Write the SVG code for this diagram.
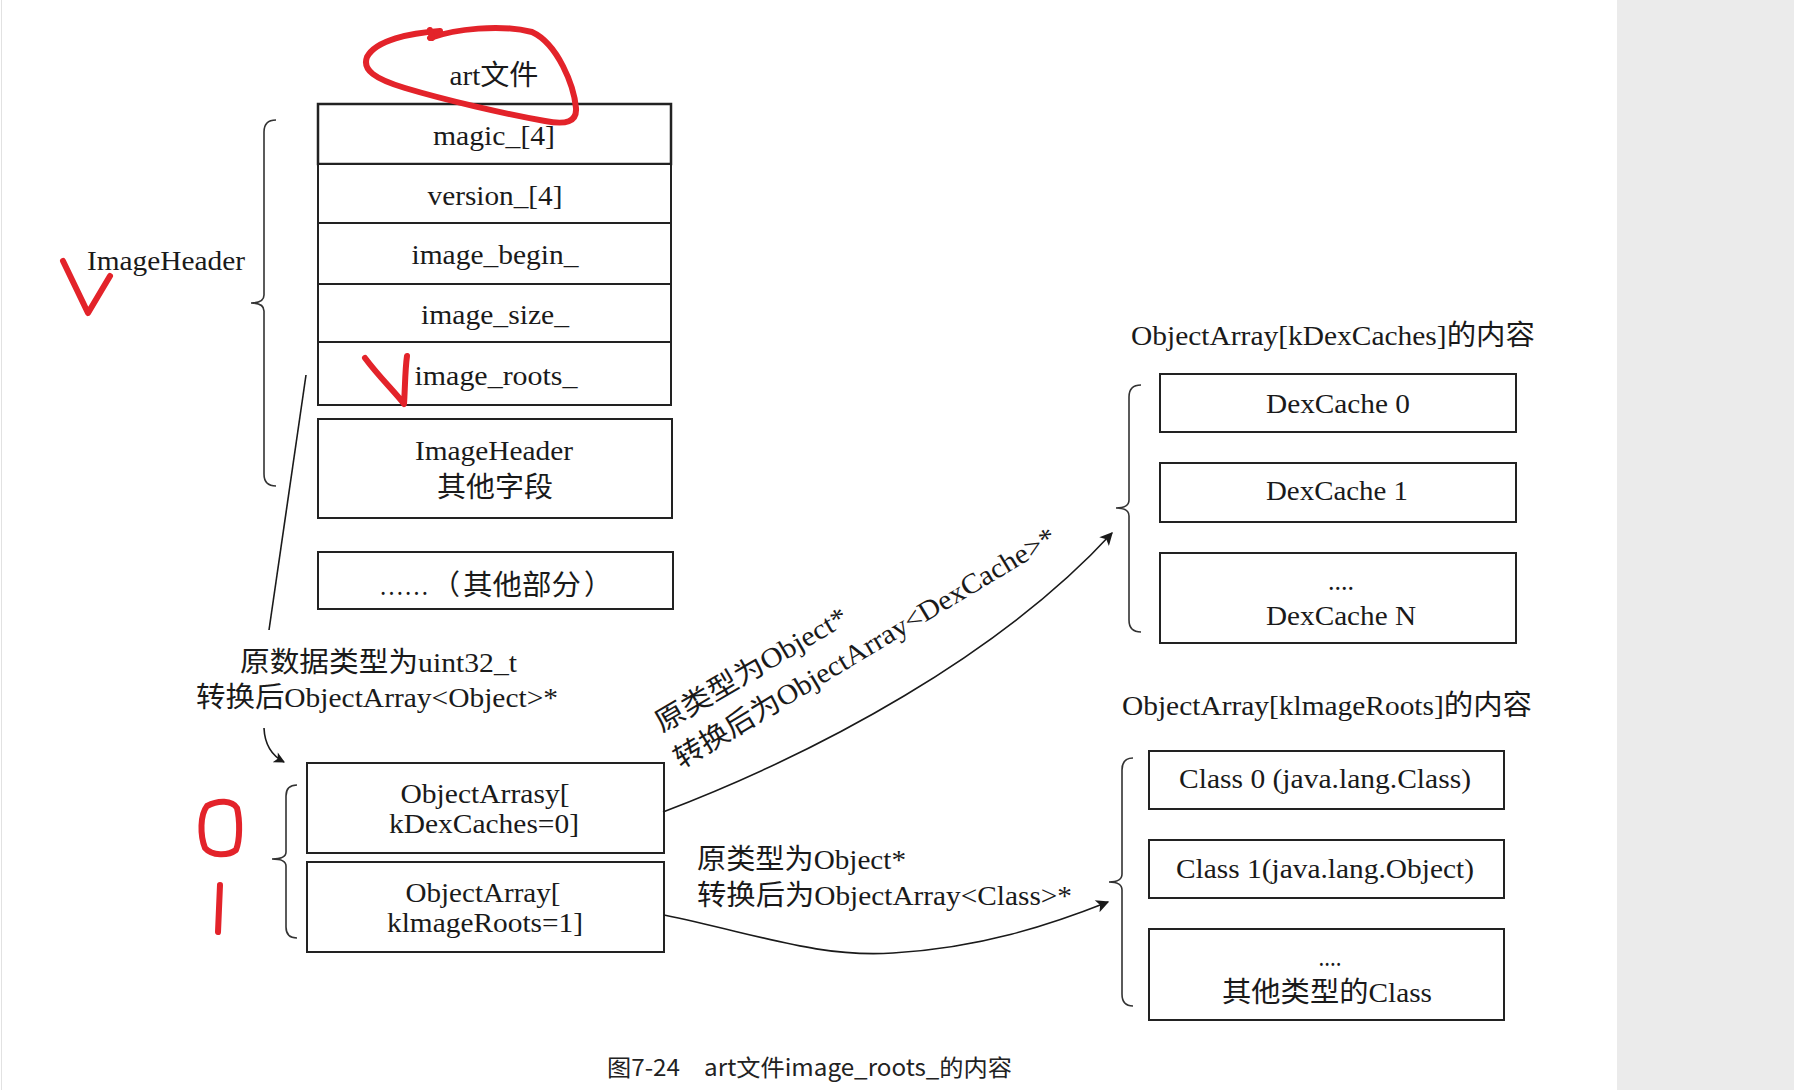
<svg xmlns="http://www.w3.org/2000/svg" width="1794" height="1090" viewBox="0 0 1794 1090">
<style>
.t{font-family:"Liberation Serif","Noto Sans CJK SC",serif;font-size:28px;fill:#1a1a1a}
.m{text-anchor:middle}
.box{fill:#fff;stroke:#222;stroke-width:2}
.br{fill:none;stroke:#333;stroke-width:1.6}
.cn{fill:none;stroke:#1a1a1a;stroke-width:1.6}
.red{fill:none;stroke:#e3232a;stroke-width:6;stroke-linecap:round;stroke-linejoin:round}
.cap{font-family:"Noto Sans CJK SC","Noto Sans",sans-serif;font-size:23px;fill:#222}
</style>
<defs>
<marker id="ah" viewBox="0 0 10 10" refX="9" refY="5" markerWidth="20" markerHeight="13" markerUnits="userSpaceOnUse" orient="auto"><path d="M0,0 L10,5 L0,10 L2.5,5 z" fill="#1a1a1a"/></marker>
<marker id="ahs" viewBox="0 0 10 10" refX="9" refY="5" markerWidth="16" markerHeight="11" markerUnits="userSpaceOnUse" orient="auto"><path d="M0,0 L10,5 L0,10 L2.5,5 z" fill="#1a1a1a"/></marker>
</defs>
<rect x="0" y="0" width="1794" height="1090" fill="#fff"/>
<rect x="1617" y="0" width="177" height="1090" fill="#ebebeb"/>
<line x1="1.5" y1="0" x2="1.5" y2="1090" stroke="#e2e2e2" stroke-width="1"/>

<g id="title-art"><text class="t m" x="494" y="85" textLength="89" lengthAdjust="spacingAndGlyphs">art文件</text></g>

<g id="row-magic"><rect class="box" x="318" y="104" width="353" height="60" style="stroke-width:2.5"/><text class="t m" x="494" y="145" textLength="122" lengthAdjust="spacingAndGlyphs">magic_[4]</text></g>
<g id="row-version"><rect class="box" x="318" y="164" width="353" height="59"/><text class="t m" x="495" y="205" textLength="135" lengthAdjust="spacingAndGlyphs">version_[4]</text></g>
<g id="row-begin"><rect class="box" x="318" y="223" width="353" height="61"/><text class="t m" x="495" y="264" textLength="167" lengthAdjust="spacingAndGlyphs">image_begin_</text></g>
<g id="row-size"><rect class="box" x="318" y="284" width="353" height="58"/><text class="t m" x="495" y="324" textLength="148" lengthAdjust="spacingAndGlyphs">image_size_</text></g>
<g id="row-roots"><rect class="box" x="318" y="342" width="353" height="63"/><text class="t m" x="496" y="385" textLength="163" lengthAdjust="spacingAndGlyphs">image_roots_</text></g>
<g id="box-header-other"><rect class="box" x="318" y="419" width="354" height="99"/><text class="t m" x="494" y="460" textLength="158" lengthAdjust="spacingAndGlyphs">ImageHeader</text><text class="t m" x="495" y="497" textLength="116" lengthAdjust="spacingAndGlyphs">其他字段</text></g>
<g id="box-other-parts"><rect class="box" x="318" y="552" width="355" height="57"/><text class="t" y="595"><tspan x="379" textLength="50" lengthAdjust="spacingAndGlyphs">……</tspan><tspan x="432">（</tspan><tspan x="463" textLength="118" lengthAdjust="spacingAndGlyphs">其他部分</tspan><tspan x="584">）</tspan></text></g>

<g id="label-imageheader"><text class="t" x="87" y="270" textLength="158" lengthAdjust="spacingAndGlyphs">ImageHeader</text>
<path class="br" d="M276 120 Q264 120 264 132 L264 295 Q264 303 251 303 Q264 303 264 311 L264 474 Q264 486 276 486"/></g>

<g id="label-uint32"><text class="t" x="240" y="672" textLength="277" lengthAdjust="spacingAndGlyphs">原数据类型为uint32_t</text><text class="t" x="196" y="707" textLength="362" lengthAdjust="spacingAndGlyphs">转换后ObjectArray&lt;Object&gt;*</text></g>

<g id="box-dexcaches-idx"><rect class="box" x="307" y="763" width="357" height="90"/><text class="t m" x="485" y="803" textLength="169" lengthAdjust="spacingAndGlyphs">ObjectArrasy[</text><text class="t m" x="484" y="833" textLength="190" lengthAdjust="spacingAndGlyphs">kDexCaches=0]</text></g>
<g id="box-imageroots-idx"><rect class="box" x="307" y="862" width="357" height="90"/><text class="t m" x="483" y="902" textLength="155" lengthAdjust="spacingAndGlyphs">ObjectArray[</text><text class="t m" x="485" y="932" textLength="196" lengthAdjust="spacingAndGlyphs">klmageRoots=1]</text></g>
<g id="brace-objarr"><path class="br" d="M297 785 Q286 785 286 796 L286 852 Q286 859 272 859 Q286 859 286 866 L286 927 Q286 938 297 938"/></g>

<g id="title-dexcaches"><text class="t" x="1131" y="345" textLength="404" lengthAdjust="spacingAndGlyphs">ObjectArray[kDexCaches]的内容</text></g>
<g id="box-dex0"><rect class="box" x="1160" y="374" width="356" height="58"/><text class="t m" x="1338" y="413" textLength="144" lengthAdjust="spacingAndGlyphs">DexCache 0</text></g>
<g id="box-dex1"><rect class="box" x="1160" y="463" width="356" height="59"/><text class="t m" x="1337" y="500" textLength="142" lengthAdjust="spacingAndGlyphs">DexCache 1</text></g>
<g id="box-dexN"><rect class="box" x="1160" y="553" width="356" height="90"/><text class="t m" x="1341" y="590" textLength="26" lengthAdjust="spacingAndGlyphs">....</text><text class="t m" x="1341" y="625" textLength="150" lengthAdjust="spacingAndGlyphs">DexCache N</text></g>
<g id="brace-dex"><path class="br" d="M1141 385 Q1129 385 1129 397 L1129 500 Q1129 508 1116 508 Q1129 508 1129 516 L1129 620 Q1129 632 1141 632"/></g>

<g id="title-imageroots"><text class="t" x="1122" y="715" textLength="410" lengthAdjust="spacingAndGlyphs">ObjectArray[klmageRoots]的内容</text></g>
<g id="box-class0"><rect class="box" x="1149" y="751" width="355" height="58"/><text class="t m" x="1325" y="788" textLength="292" lengthAdjust="spacingAndGlyphs">Class 0 (java.lang.Class)</text></g>
<g id="box-class1"><rect class="box" x="1149" y="840" width="355" height="58"/><text class="t m" x="1325" y="878" textLength="298" lengthAdjust="spacingAndGlyphs">Class 1(java.lang.Object)</text></g>
<g id="box-classN"><rect class="box" x="1149" y="929" width="355" height="91"/><text class="t m" x="1330" y="966" textLength="23" lengthAdjust="spacingAndGlyphs">....</text><text class="t m" x="1327" y="1002" textLength="210" lengthAdjust="spacingAndGlyphs">其他类型的Class</text></g>
<g id="brace-class"><path class="br" d="M1133 758 Q1122 758 1122 770 L1122 874 Q1122 882 1109 882 Q1122 882 1122 890 L1122 994 Q1122 1006 1133 1006"/></g>

<g id="connectors">
<line class="cn" x1="306" y1="375" x2="269" y2="630"/>
<path class="cn" d="M264 728 Q265 752 284 762" marker-end="url(#ahs)"/>
<path class="cn" d="M663 812 C820 752 1000 655 1112 533" marker-end="url(#ah)"/>
<path class="cn" d="M664 915 C760 935 820 958 893 953 C980 948 1050 925 1108 902" marker-end="url(#ah)"/>
<text class="t" transform="rotate(-30.5 662 733)" x="662" y="733" textLength="218" lengthAdjust="spacingAndGlyphs">原类型为Object*</text>
<text class="t" transform="rotate(-31 681 769)" x="681" y="769" textLength="440" lengthAdjust="spacingAndGlyphs">转换后为ObjectArray&lt;DexCache&gt;*</text>
<text class="t" x="697" y="869" textLength="209" lengthAdjust="spacingAndGlyphs">原类型为Object*</text>
<text class="t" x="697" y="905" textLength="375" lengthAdjust="spacingAndGlyphs">转换后为ObjectArray&lt;Class&gt;*</text>
</g>

<g id="annotations">
<path class="red" d="M430 38 C455 29 500 24 532 32 C558 44 574 86 576 108 C577 122 566 125 545 121 C505 114 445 100 405 88 C375 79 362 70 367 57 C376 40 410 33 440 31"/>
<path class="red" d="M430 30 L432 38"/>
<path class="red" d="M63 261 L88 313 L110 276"/>
<path class="red" d="M365 358 C380 378 395 392 404 404 C405 390 405 370 407 356"/>
<path class="red" d="M207 806 C218 800 232 800 237 808 C240 820 240 840 236 850 C228 856 212 856 205 848 C200 835 200 815 207 806 Z"/>
<path class="red" d="M220 885 L218 932"/>
</g>

<g id="caption"><text class="cap" x="607" y="1076" textLength="405" lengthAdjust="spacingAndGlyphs">图7-24　art文件image_roots_的内容</text></g>
</svg>
